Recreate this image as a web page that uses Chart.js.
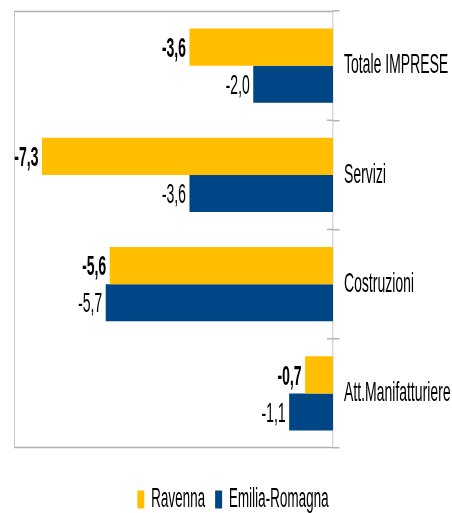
<!DOCTYPE html>
<html>
<head>
<meta charset="utf-8">
<script src="https://cdn.jsdelivr.net/npm/chart.js@4.4.1/dist/chart.umd.min.js"></script>
<style>
  html, body { margin: 0; padding: 0; overflow: hidden; background: #fff; }
  /* il grafico originale ha il testo molto stretto: disegno largo e comprimo in orizzontale */
  #wrap { width: 904px; height: 513px; transform: scaleX(0.5); transform-origin: 0 0; }
</style>
</head>
<body>
<div id="wrap"><canvas id="chart" width="904" height="513"></canvas></div>
<script>
// Dati del grafico
const categorie = ['Totale IMPRESE', 'Servizi', 'Costruzioni', 'Att.Manifatturiere'];
const ravenna = [-3.6, -7.3, -5.6, -0.7];
const emiliaRomagna = [-2.0, -3.6, -5.7, -1.1];
const serie = ['Ravenna', 'Emilia-Romagna'];

const FONT = '"Liberation Sans", Arial, sans-serif';
Chart.defaults.font.family = FONT;
Chart.defaults.font.size = 28;
Chart.defaults.color = '#000';

// Cornice grigia attorno all'area del grafico (sinistra, sopra, sotto)
// + parte interna delle tacche sull'asse delle categorie
const cornice = {
    id: 'cornice',
    beforeDatasetsDraw(chart) {
        const { ctx, chartArea: a } = chart;
        const y = chart.scales.y;
        ctx.save();
        ctx.strokeStyle = '#b3b3b3';
        ctx.lineWidth = 1.5;
        ctx.beginPath();
        ctx.moveTo(a.right, a.top + 0.5);
        ctx.lineTo(a.left + 1, a.top + 0.5);
        ctx.lineTo(a.left + 1, a.bottom - 0.5);
        ctx.lineTo(a.right, a.bottom - 0.5);
        for (let i = 0; i < categorie.length - 1; i++) {
            const py = (y.getPixelForValue(i) + y.getPixelForValue(i + 1)) / 2;
            ctx.moveTo(a.right - 12, py);
            ctx.lineTo(a.right, py);
        }
        ctx.stroke();
        ctx.restore();
    }
};

// Etichette dei valori a sinistra delle barre (Ravenna in grassetto)
const etichette = {
    id: 'etichette',
    afterDatasetsDraw(chart) {
        const ctx = chart.ctx;
        chart.data.datasets.forEach((ds, i) => {
            const meta = chart.getDatasetMeta(i);
            ctx.save();
            ctx.font = (i === 0 ? 'bold ' : '') + '28px ' + FONT;
            ctx.fillStyle = '#000';
            ctx.textAlign = 'right';
            ctx.textBaseline = 'middle';
            meta.data.forEach((bar, j) => {
                const testo = ds.data[j].toFixed(1).replace('.', ',');
                ctx.fillText(testo, bar.x - 7, bar.y + 2);
            });
            ctx.restore();
        });
    }
};

new Chart(document.getElementById('chart'), {
    type: 'bar',
    data: {
        labels: categorie,
        datasets: [
            {
                label: serie[0],
                data: ravenna,
                backgroundColor: '#ffbf00',
                categoryPercentage: 0.68,
                barPercentage: 1.0
            },
            {
                label: serie[1],
                data: emiliaRomagna,
                backgroundColor: '#004586',
                categoryPercentage: 0.68,
                barPercentage: 1.0
            }
        ]
    },
    options: {
        indexAxis: 'y',
        responsive: false,
        animation: false,
        layout: { padding: { left: 28, top: 11, right: 0, bottom: -10 } },
        scales: {
            x: {
                min: -8,
                max: 0,
                ticks: { display: false },
                grid: { display: false },
                border: { display: false },
                afterFit(scale) {
                    scale.height = 18;
                    scale.paddingLeft = 0;
                    scale.paddingRight = 0;
                }
            },
            y: {
                position: 'right',
                grid: {
                    offset: true,
                    drawOnChartArea: false,
                    tickLength: 13,
                    color: '#b3b3b3',
                    lineWidth: 1.5
                },
                border: { display: true, color: '#b3b3b3', width: 1.5 },
                ticks: { padding: 9, font: { size: 28 } },
                afterFit(scale) {
                    scale.width = 238;
                    scale.paddingTop = 0;
                    scale.paddingBottom = 0;
                }
            }
        },
        plugins: {
            legend: {
                position: 'bottom',
                labels: {
                    boxWidth: 14,
                    boxHeight: 18,
                    padding: 20,
                    font: { size: 27 }
                }
            },
            tooltip: { enabled: false }
        }
    },
    plugins: [cornice, etichette]
});
</script>
</body>
</html>
